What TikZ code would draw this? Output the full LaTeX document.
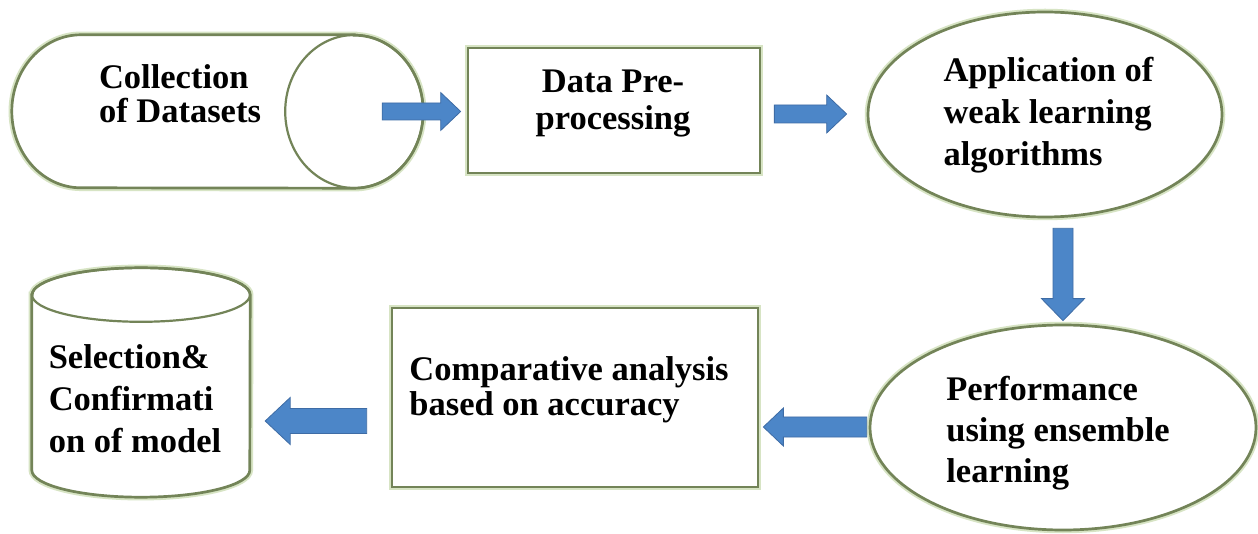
\documentclass[tikz,border=0pt]{standalone}
\usepackage{fontspec}
\setmainfont{Liberation Serif}
\usetikzlibrary{shapes.geometric,calc}
\definecolor{bord}{RGB}{115,132,88}
\definecolor{glow}{RGB}{215,228,196}
\definecolor{arrfill}{RGB}{76,134,200}
\definecolor{arrdraw}{RGB}{62,108,165}
\tikzset{
  shapeline/.style={draw=bord, line width=2.7pt, fill=white, preaction={draw=glow, line width=6.5pt}},
  edgeonly/.style={draw=bord, line width=2.2pt},
  lbl/.style={inner sep=0pt, align=left, font=\bfseries\fontsize{34.5}{42}\selectfont},
  blockarr/.style={fill=arrfill, draw=arrdraw, line width=0.8pt, line join=miter},
}
\newcommand\blockarrow[5]{% start, end, shaft half, head half, head length
  \path ($(#2)!#5!(#1)$) coordinate (ba-b);
  \filldraw[blockarr] ($(#1)!#3!90:(#2)$) -- ($(ba-b)!#3!90:(#2)$) -- ($(ba-b)!#4!90:(#2)$) -- (#2)
    -- ($(ba-b)!#4!-90:(#2)$) -- ($(ba-b)!#3!-90:(#2)$) -- ($(#1)!#3!-90:(#2)$) -- cycle;
}
\begin{document}
\begin{tikzpicture}[x=1pt,y=1pt]
\useasboundingbox (0,0) rectangle (1258,533);
\fill[white] (0,0) rectangle (1258,533);

% --- Collection of Datasets (horizontal cylinder)
\node[inner sep=0pt, minimum width=411pt, minimum height=153pt] (coll) at (217.5,421.5) {};
\draw[shapeline] ($(coll.north east)+(-69,0)$) -- ($(coll.north west)+(69,0)$)
  arc[start angle=90, end angle=270, x radius=69, y radius=76.5]
  -- ($(coll.south east)+(-69,0)$)
  arc[start angle=-90, end angle=90, x radius=69, y radius=76.5] -- cycle;
\draw[edgeonly] ($(coll.east)+(-69,0)$) ellipse[x radius=69, y radius=76.5];
\node[lbl, font=\bfseries\fontsize{34.5}{34}\selectfont] (colltxt) at (180,439.5) {Collection\\of Datasets};

% --- Data Pre-processing
\node[shapeline, rectangle, inner sep=0pt, minimum width=292pt, minimum height=125pt] (data) at (614,422.5) {};
\node[lbl, align=center, font=\bfseries\fontsize{34.5}{37}\selectfont] (datatxt) at (613,429.5) {Data Pre-\\processing};

% --- Application of weak learning algorithms
\node[shapeline, ellipse, inner sep=0pt, minimum width=354pt, minimum height=205pt] (app) at (1045,418.5) {};
\node[lbl] (apptxt) at (1048.5,417.5) {Application of\\weak learning\\algorithms};

% --- Performance using ensemble learning
\node[shapeline, ellipse, inner sep=0pt, minimum width=386pt, minimum height=205pt] (perf) at (1063,105.5) {};
\node[lbl, font=\bfseries\fontsize{34.5}{41}\selectfont] (perftxt) at (1058,100) {Performance\\using ensemble\\learning};

% --- Comparative analysis
\node[shapeline, rectangle, inner sep=0pt, minimum width=366pt, minimum height=179pt] (comp) at (575,135.5) {};
\node[lbl, font=\bfseries\fontsize{34.5}{35}\selectfont] (comptxt) at (569,143) {Comparative analysis\\based on accuracy};

% --- Selection & Confirmation (vertical cylinder)
\node[inner sep=0pt, minimum width=218pt, minimum height=229pt] (sel) at (141,150.5) {};
\draw[shapeline] ($(sel.north west)+(0,-27)$) -- ($(sel.south west)+(0,27)$)
  arc[start angle=180, end angle=360, x radius=109, y radius=27]
  -- ($(sel.north east)+(0,-27)$)
  arc[start angle=0, end angle=180, x radius=109, y radius=27] -- cycle;
\draw[edgeonly] ($(sel.north)+(0,-27)$) ellipse[x radius=109, y radius=27];
\node[lbl] (seltxt) at (135,134) {Selection\&\\Confirmati\\on of model};

% --- block arrows
\coordinate (a1s) at ($(coll.east)+(-41,0)$);
\coordinate (a1e) at ($(a1s -| data.west)+(-6,0)$);
\blockarrow{a1s}{a1e}{8.5pt}{19pt}{20pt}

\coordinate (a2s) at ($(data.east)+(13,-3.5)$);
\coordinate (a2e) at ($(a2s -| app.west)+(-20,0)$);
\blockarrow{a2s}{a2e}{9pt}{19pt}{20pt}

\coordinate (a3s) at ($(app.south)+(18,-10)$);
\coordinate (a3e) at ($(a3s |- perf.north)+(0,3)$);
\blockarrow{a3s}{a3e}{10pt}{21.5pt}{22pt}

\coordinate (a4s) at ($(perf.west)+(-2,0.5)$);
\coordinate (a4e) at ($(a4s -| comp.east)+(4,0)$);
\blockarrow{a4s}{a4e}{10pt}{19pt}{20pt}

\coordinate (a5s) at ($(comp.west)+(-24,-23.5)$);
\coordinate (a5e) at ($(a5s -| sel.east)+(15,0)$);
\blockarrow{a5s}{a5e}{12.5pt}{23.5pt}{25pt}
\end{tikzpicture}
\end{document}
